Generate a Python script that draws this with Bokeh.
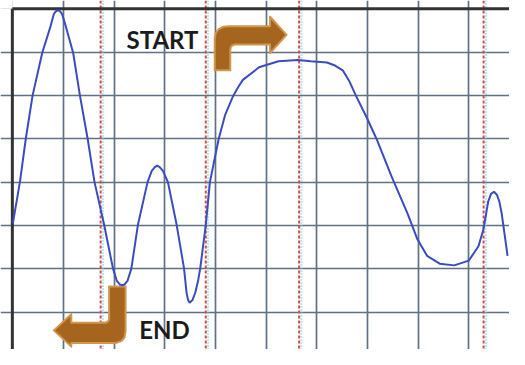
from bokeh.plotting import figure
from bokeh.models import Range1d, FixedTicker, Span, Grid
from bokeh.embed import file_html
from bokeh.resources import INLINE
from bokeh.core.properties import value

# ---- data (grid units) ----
curve_x = [0.0, 0.139, 0.254, 0.388, 0.579, 0.745, 0.809, 0.847, 0.891, 0.933,
           0.971, 1.044, 1.191, 1.325, 1.478, 1.612, 1.803, 1.976, 2.053, 2.110,
           2.158, 2.206, 2.263, 2.340, 2.468, 2.659, 2.742, 2.799, 2.851, 2.904,
           2.962, 3.061, 3.234, 3.379, 3.430, 3.459, 3.488, 3.546, 3.603, 3.660,
           3.699, 3.808, 3.890, 4.062, 4.187, 4.349, 4.446, 4.541, 4.860, 5.243,
           5.626, 5.880, 6.200, 6.360, 6.512, 6.646, 6.774, 6.990, 7.182, 7.469,
           7.794, 7.986, 8.177, 8.426, 8.713, 9.000, 9.191, 9.287, 9.335, 9.383,
           9.440, 9.498, 9.555, 9.604, 9.651, 9.766]
curve_y = [3.05, 4.00, 4.99, 5.99, 6.98, 7.60, 7.88, 7.94, 7.97, 7.94,
           7.88, 7.60, 6.98, 5.99, 4.99, 4.00, 3.01, 2.01, 1.72, 1.64,
           1.62, 1.64, 1.72, 2.01, 3.01, 4.00, 4.26, 4.34, 4.38, 4.34,
           4.26, 4.00, 3.01, 2.01, 1.44, 1.28, 1.22, 1.28, 1.46, 1.75,
           2.01, 3.01, 4.00, 4.99, 5.54, 5.99, 6.19, 6.36, 6.65, 6.79,
           6.82, 6.79, 6.76, 6.69, 6.58, 6.32, 5.99, 5.48, 4.99, 4.15,
           3.27, 2.68, 2.30, 2.12, 2.08, 2.19, 2.52, 2.90, 3.22, 3.55,
           3.73, 3.78, 3.71, 3.55, 3.27, 2.30]

grid_x = [1, 2, 3, 4, 5, 6, 7, 8, 9]
grid_y = [1, 2, 3, 4, 5, 6, 7]
marker_x = [1.733, 3.808, 5.651, 9.293]

labels = ["START", "END"]
label_x = [2.244, 2.493]
label_y = [7.287, 0.591]

start_arrow_x = [3.985, 3.985, 4.005, 4.062, 4.158, 4.273, 5.077, 5.077, 5.402,
                 5.077, 5.077, 4.388, 4.330, 4.301, 4.292, 4.292]
start_arrow_y = [6.581, 7.309, 7.441, 7.529, 7.585, 7.596, 7.596, 7.816, 7.397,
                 6.978, 7.176, 7.176, 7.154, 7.110, 7.044, 6.581]
end_arrow_x = [1.900, 2.225, 2.225, 2.206, 2.148, 2.033, 1.153, 1.153, 0.809,
               1.153, 1.153, 1.823, 1.871, 1.890, 1.900]
end_arrow_y = [1.595, 1.595, 0.558, 0.426, 0.338, 0.287, 0.287, 0.205, 0.580,
               0.954, 0.756, 0.756, 0.778, 0.812, 0.867]

p = figure(width=509, height=349,
           x_range=Range1d(-0.244, 9.804), y_range=Range1d(0.139, 8.191),
           output_backend="svg", toolbar_location=None,
           x_axis_location=None, y_axis_location=None,
           min_border_left=0, min_border_right=0, min_border_top=0, min_border_bottom=0)
p.outline_line_color = None
p.background_fill_color = "white"
p.border_fill_color = "white"

grid_color = "#5f7283"
p.add_layout(Grid(dimension=0, ticker=FixedTicker(ticks=grid_x),
                  grid_line_color=grid_color, grid_line_width=1.7))
p.add_layout(Grid(dimension=1, ticker=FixedTicker(ticks=grid_y),
                  grid_line_color=grid_color, grid_line_width=1.7))

for mx in marker_x:
    p.add_layout(Span(location=mx + 0.045, dimension="height", line_color="#7ccbe6",
                      line_width=2, line_dash="1 2", level="underlay"))
    p.add_layout(Span(location=mx, dimension="height", line_color="#cf4f45",
                      line_width=2, line_dash="3 2", level="underlay"))

# frame borders (left and top)
p.segment(x0=[-0.01], y0=[0.139], x1=[-0.01], y1=[8.0], line_color="#333333", line_width=3)
p.segment(x0=[-0.01], y0=[8.0], x1=[9.804], y1=[8.0], line_color="#333333", line_width=3)

p.patch(start_arrow_x, start_arrow_y, fill_color="#a5651f", line_color="#cf9750",
        line_width=2, line_join="round")
p.patch(end_arrow_x, end_arrow_y, fill_color="#a5651f", line_color="#cf9750",
        line_width=2, line_join="round")

p.line(curve_x, curve_y, line_color="#3b4cc0", line_width=2)

p.text(x=label_x, y=label_y, text=labels, text_font=value("Lato"),
       text_font_style="bold", text_font_size="24px", text_color="#1b1b1b",
       text_align="left", text_baseline="middle")

open("out.html", "w").write(file_html(p, INLINE))
